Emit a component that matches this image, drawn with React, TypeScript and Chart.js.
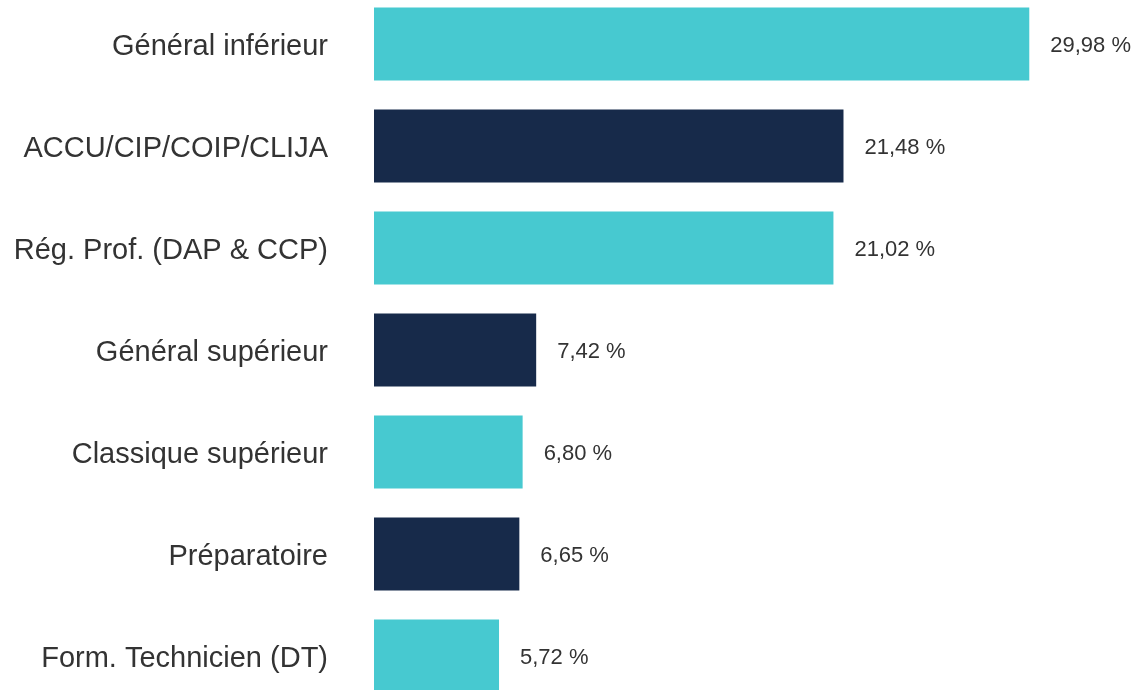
import React, { useEffect, useRef } from "react";
import { Chart, registerables } from "chart.js";

Chart.register(...registerables);

const categories = [
  "Général inférieur",
  "ACCU/CIP/COIP/CLIJA",
  "Rég. Prof. (DAP & CCP)",
  "Général supérieur",
  "Classique supérieur",
  "Préparatoire",
  "Form. Technicien (DT)",
];
const values = [29.98, 21.48, 21.02, 7.42, 6.8, 6.65, 5.72];

const TEAL = "#47C9D0";
const NAVY = "#172A4A";
const TEXT = "#333333";
const FONT = "'Liberation Sans', Arial, Helvetica, sans-serif";

const fmt = (v: number) => v.toFixed(2).replace(".", ",") + " %";

const valueLabels = {
  id: "valueLabels",
  afterDatasetsDraw(chart: any) {
    const { ctx } = chart;
    const meta = chart.getDatasetMeta(0);
    ctx.save();
    ctx.font = `22px ${FONT}`;
    ctx.fillStyle = TEXT;
    ctx.textAlign = "left";
    ctx.textBaseline = "middle";
    meta.data.forEach((bar: any, i: number) => {
      ctx.fillText(fmt(values[i]), bar.x + 21, bar.y + 2);
    });
    ctx.restore();
  },
};

export default function App() {
  const ref = useRef<HTMLCanvasElement | null>(null);
  useEffect(() => {
    if (!ref.current) return;
    const chart = new Chart(ref.current, {
      type: "bar",
      data: {
        labels: categories,
        datasets: [
          {
            data: values,
            backgroundColor: values.map((_, i) => (i % 2 === 0 ? TEAL : NAVY)),
            borderWidth: 0,
            categoryPercentage: 1,
            barPercentage: 0.715,
          },
        ],
      },
      options: {
        indexAxis: "y",
        animation: false,
        responsive: false,
        layout: { padding: { left: 0, right: 2, top: 0, bottom: 0 } },
        plugins: {
          legend: { display: false },
          tooltip: { enabled: false },
        },
        scales: {
          x: { display: false, min: 0, max: 35 },
          y: {
            grid: { display: false, drawTicks: false },
            border: { display: false },
            afterFit: (scale: any) => {
              scale.width = 374;
              scale.paddingTop = 0;
              scale.paddingBottom = 0;
            },
            ticks: {
              padding: 46,
              labelOffset: 3,
              color: TEXT,
              font: { family: FONT, size: 29 },
            },
          },
        },
      },
      plugins: [valueLabels],
    });
    return () => chart.destroy();
  }, []);
  return (
    <div style={{ position: "fixed", left: 0, top: -7, width: 1141, height: 714 }}>
      <canvas ref={ref} width={1141} height={714} style={{ display: "block" }} />
    </div>
  );
}
